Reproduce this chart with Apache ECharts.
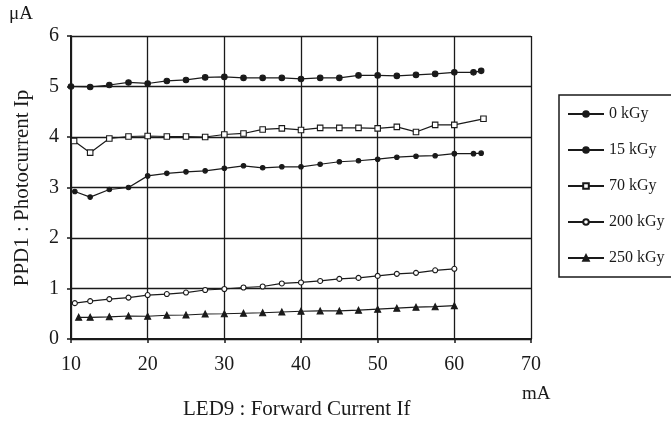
<!DOCTYPE html>
<html><head><meta charset="utf-8">
<script src="https://cdn.jsdelivr.net/npm/echarts@6/dist/echarts.min.js"></script>
<style>html,body{margin:0;padding:0;background:#fff}#c{width:671px;height:421px}</style>
</head><body><div id="c"></div>
<script>
var xStd = [10,12.5,15,17.5,20,22.5,25,27.5,30,32.5,35,37.5,40,42.5,45,47.5,50,52.5,55,57.5,60,62.5,63.5];
var y0kGy = [5.00,4.99,5.03,5.08,5.06,5.11,5.13,5.18,5.19,5.17,5.17,5.17,5.15,5.17,5.17,5.22,5.22,5.21,5.23,5.25,5.28,5.28,5.31];
var x15kGy = [10.5,12.5,15,17.5,20,22.5,25,27.5,30,32.5,35,37.5,40,42.5,45,47.5,50,52.5,55,57.5,60,62.5,63.5];
var y15kGy = [2.92,2.81,2.96,3.00,3.23,3.28,3.31,3.33,3.38,3.43,3.39,3.41,3.41,3.46,3.51,3.53,3.56,3.60,3.62,3.63,3.67,3.67,3.68];
var x70kGy = [10.4,12.5,15,17.5,20,22.5,25,27.5,30,32.5,35,37.5,40,42.5,45,47.5,50,52.5,55,57.5,60,63.8];
var y70kGy = [3.92,3.69,3.97,4.01,4.02,4.01,4.01,4.00,4.05,4.07,4.15,4.17,4.14,4.18,4.18,4.18,4.17,4.20,4.10,4.24,4.24,4.36];
var x200kGy = [10.5,12.5,15,17.5,20,22.5,25,27.5,30,32.5,35,37.5,40,42.5,45,47.5,50,52.5,55,57.5,60];
var y200kGy = [0.71,0.75,0.79,0.82,0.87,0.89,0.92,0.97,0.99,1.02,1.04,1.10,1.12,1.15,1.19,1.21,1.25,1.29,1.31,1.36,1.39];
var x250kGy = [11,12.5,15,17.5,20,22.5,25,27.5,30,32.5,35,37.5,40,42.5,45,47.5,50,52.5,55,57.5,60];
var y250kGy = [0.43,0.43,0.44,0.455,0.45,0.47,0.475,0.495,0.50,0.51,0.52,0.535,0.55,0.555,0.555,0.57,0.59,0.61,0.63,0.64,0.66];
var xTicks = [10,20,30,40,50,60,70];
var yTicks = [0,1,2,3,4,5,6];
var seriesNames = ['0 kGy','15 kGy','70 kGy','200 kGy','250 kGy'];

function pairs(xs, ys){ return xs.map(function(x,i){return [x, ys[i]];}); }
var FONT = '"Liberation Serif","DejaVu Serif",serif';
var C = '#1a1a1a';
function mk(name, xs, ys, sym, size, fill){
  return {name:name, type:'line', data:pairs(xs,ys), symbol:sym, symbolSize:size, showSymbol:true,
    lineStyle:{color:C,width:1.2}, itemStyle:{color:fill, borderColor:C, borderWidth:1.1}, z:5};
}
var chart = echarts.init(document.getElementById('c'), null, {renderer:'canvas'});
chart.setOption({
  animation:false,
  backgroundColor:'#fff',
  textStyle:{fontFamily:FONT,color:C},
  grid:{left:71,right:140,top:36,bottom:82,show:false},
  xAxis:{type:'value',min:10,max:70,interval:10,
    axisLine:{show:true,onZero:false,lineStyle:{color:C,width:2}},
    axisTick:{show:true,length:4,inside:false,lineStyle:{color:C,width:1.5}},
    axisLabel:{fontFamily:FONT,fontSize:20,color:C,margin:16},
    splitLine:{show:true,lineStyle:{color:C,width:1.3}}},
  yAxis:{type:'value',min:0,max:6,interval:1,
    axisLine:{show:true,onZero:false,lineStyle:{color:C,width:2}},
    axisTick:{show:true,length:4,lineStyle:{color:C,width:1.5}},
    axisLabel:{fontFamily:FONT,fontSize:20,color:C,margin:12},
    splitLine:{show:true,lineStyle:{color:C,width:1.3}}},
  legend:{orient:'vertical',left:559,top:95,itemWidth:36,itemHeight:7,itemGap:20,
    data:seriesNames,
    backgroundColor:'#fff',borderColor:C,borderWidth:1.5,padding:[11,40,11,8],
    textStyle:{fontFamily:FONT,fontSize:16,color:C}},
  graphic:[
    {type:'text',left:9,top:5,style:{text:'μA',font:'19px '+FONT,fill:C}},
    {type:'text',left:522,top:385,style:{text:'mA',font:'19px '+FONT,fill:C}},
    {type:'text',left:183,top:399,style:{text:'LED9 : Forward Current If',font:'21px '+FONT,fill:C}},
    {type:'text',x:22,y:188,rotation:Math.PI/2,style:{text:'PPD1 : Photocurrent Ip',font:'21px '+FONT,fill:C,align:'center',verticalAlign:'middle'}}
  ],
  series:[
    mk(seriesNames[0], xStd, y0kGy, 'circle', 5.5, C),
    mk(seriesNames[1], x15kGy, y15kGy, 'circle', 4.5, C),
    mk(seriesNames[2], x70kGy, y70kGy, 'rect', 5.5, '#fff'),
    mk(seriesNames[3], x200kGy, y200kGy, 'circle', 5, '#fff'),
    mk(seriesNames[4], x250kGy, y250kGy, 'triangle', 6, C)
  ]
});
</script></body></html>
